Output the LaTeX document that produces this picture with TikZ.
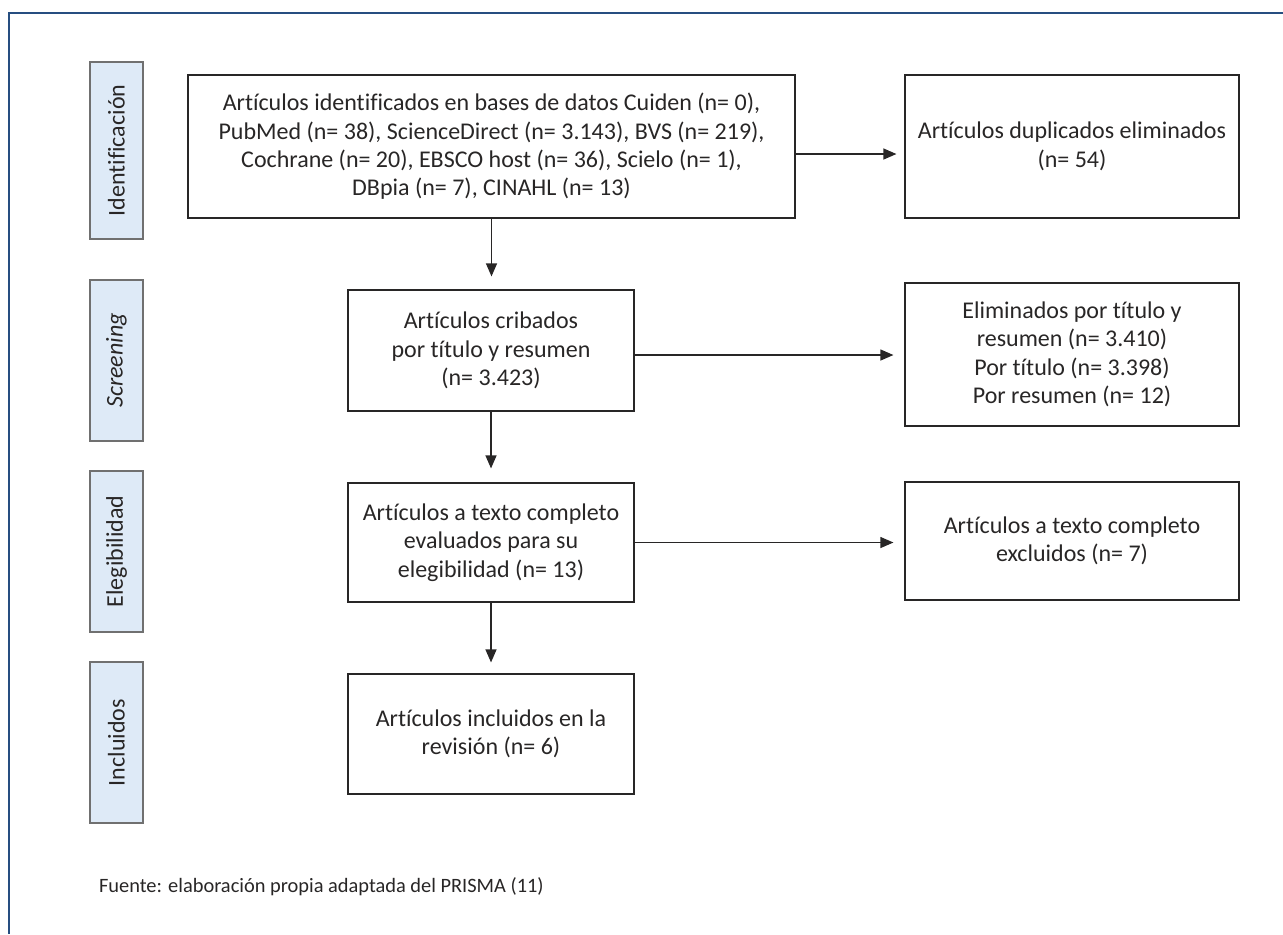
\documentclass[tikz,border=0pt]{standalone}
\usepackage{fontspec}
\setmainfont{Carlito}[Ligatures=NoCommon]
\usetikzlibrary{arrows.meta}
\definecolor{azulmarco}{RGB}{38,78,128}
\definecolor{azulfase}{RGB}{222,234,247}
\definecolor{grisborde}{RGB}{112,112,112}
\definecolor{tinta}{RGB}{40,38,38}
\begin{document}
\begin{tikzpicture}[x=0.5pt,y=-0.5pt,
		caja/.style={draw=tinta,line width=0.6pt,align=center,inner sep=0pt,text=tinta,font=\fontsize{12}{14.2}\selectfont},
		fase/.style={draw=grisborde,fill=azulfase,line width=0.6pt,rotate=90,inner sep=0pt,minimum height=26.5pt,text=tinta,font=\fontsize{12}{14.2}\selectfont},
		flecha/.style={draw=tinta,line width=0.6pt,-{Triangle[length=6.5pt,width=5.5pt]}}]
	\useasboundingbox (0,0) rectangle (1283,934);
	%			Marco
	\draw[azulmarco,line width=1.2pt] (1283,13) -- (9,13) -- (9,934);
	%			Fases
	\node[fase,minimum width=88.5pt] (fid) at (116.5,150.5) {Identificación};
	\node[fase,minimum width=80.5pt] (fsc) at (116.5,360.5) {\itshape Screening};
	\node[fase,minimum width=80.5pt] (fel) at (116.5,551.5) {Elegibilidad};
	\node[fase,minimum width=80.5pt] (fin) at (116.5,742.5) {Incluidos};
	%			Cajas
	\node[caja,minimum width=303.5pt,minimum height=71.5pt] (ident) at (491.5,146.5) {Artículos identificados en bases de datos Cuiden (n= 0),\\PubMed (n= 38), ScienceDirect (n= 3.143), BVS (n= 219),\\Cochrane (n= 20), EBSCO host (n= 36), Scielo (n= 1),\\DBpia (n= 7), CINAHL (n= 13)};
	\node[caja,minimum width=167pt,minimum height=71.5pt] (dup) at (1072,146.5) {Artículos duplicados eliminados\\(n= 54)};
	\node[caja,minimum width=143pt,minimum height=60.5pt] (cribado) at (491,350.5) {Artículos cribados\\por título y resumen\\(n= 3.423)};
	\node[caja,minimum width=167pt,minimum height=71.5pt] (elim) at (1072,354.5) {Eliminados por título y\\resumen (n= 3.410)\\Por título (n= 3.398)\\Por resumen (n= 12)};
	\node[caja,minimum width=143pt,minimum height=59.5pt] (eleg) at (491,542.5) {Artículos a texto completo\\evaluados para su\\elegibilidad (n= 13)};
	\node[caja,minimum width=167pt,minimum height=59pt] (excl) at (1072,541) {Artículos a texto completo\\excluidos (n= 7)};
	\node[caja,minimum width=143pt,minimum height=60pt] (incl) at (491,734) {Artículos incluidos en la\\revisión (n= 6)};
	%			Flechas
	\draw[flecha,shorten >=6.5pt] (ident.south) -- (ident.south |- cribado.north);
	\draw[flecha,shorten >=7pt] (cribado.south) -- (eleg.north);
	\draw[flecha,shorten >=5.5pt] (eleg.south) -- (incl.north);
	\draw[flecha,shorten >=4pt] ([yshift=-3.75pt]ident.east) -- ([yshift=-3.75pt]ident.east -| dup.west);
	\draw[flecha,shorten >=5.5pt] ([yshift=-2.25pt]cribado.east) -- ([yshift=-2.25pt]cribado.east -| elim.west);
	\draw[flecha,shorten >=5.5pt] (eleg.east) -- (eleg.east -| excl.west);
	%			Fuente
	\node[anchor=west,text=tinta,font=\fontsize{10.2}{12}\selectfont] (fuente) at (92,887) {Fuente: elaboración propia adaptada del PRISMA (11)};
\end{tikzpicture}
\end{document}
